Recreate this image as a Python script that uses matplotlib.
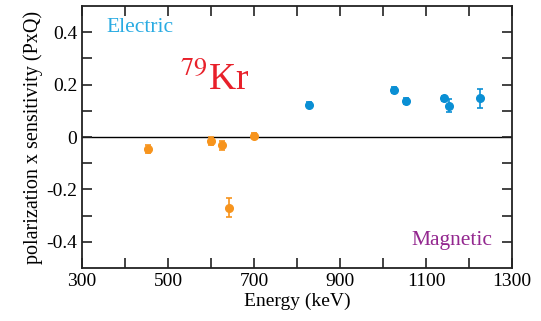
import matplotlib
matplotlib.use("Agg")
import matplotlib.pyplot as plt

# magnetic (orange) and electric (blue) transitions
mag_energy = [454, 599, 625, 642, 700]
mag_pq = [-0.046, -0.015, -0.032, -0.270, 0.005]
mag_err = [0.015, 0.015, 0.018, 0.036, 0.010]

ele_energy = [827, 1026, 1054, 1142, 1153, 1226]
ele_pq = [0.124, 0.179, 0.138, 0.148, 0.120, 0.147]
ele_err = [0.008, 0.010, 0.012, 0.010, 0.024, 0.035]

xticks = [300, 500, 700, 900, 1100, 1300]
xminor = [400, 600, 800, 1000, 1200]
yticks = [-0.4, -0.2, 0, 0.2, 0.4]
ylabels = ['-0.4', '-0.2', '0', '0.2', '0.4']
yminor = [-0.3, -0.1, 0.1, 0.3]

plt.rcParams['font.family'] = ['Liberation Serif', 'DejaVu Serif']
plt.rcParams['mathtext.fontset'] = 'stix'

W, H = 541, 321
fig = plt.figure(figsize=(W / 100, H / 100), dpi=100)
ax = fig.add_axes([82 / W, 1 - 268 / H, 430 / W, 262 / H])

ax.axhline(0, color='black', lw=1.0, zorder=1)

ax.errorbar(mag_energy, mag_pq, yerr=mag_err, fmt='o', color='#f7941d',
            ms=5.5, capsize=2.5, elinewidth=1.2, capthick=1.2, zorder=3)
ax.errorbar(ele_energy, ele_pq, yerr=ele_err, fmt='o', color='#0a8fd4',
            ms=5.5, capsize=2.5, elinewidth=1.2, capthick=1.2, zorder=3)

ax.set_xlim(300, 1300)
ax.set_ylim(-0.5, 0.5)
ax.set_xticks(xticks)
ax.set_xticks(xminor, minor=True)
ax.set_yticks(yticks)
ax.set_yticklabels(ylabels)
ax.set_yticks(yminor, minor=True)

ax.tick_params(which='both', direction='in', top=True, right=True,
               labelsize=14, width=1.2, length=7, color='#222222')
for s in ax.spines.values():
    s.set_linewidth(1.3)
    s.set_color('#222222')

ax.set_xlabel('Energy (keV)', fontsize=14, labelpad=2)
ax.set_ylabel('polarization x sensitivity (PxQ)', fontsize=14.5, labelpad=2)

fig.text(106 / W, 1 - 27 / H, 'Electric', fontsize=15.5, color='#29abe2',
         va='center', ha='left')
fig.text(411 / W, 1 - 241 / H, 'Magnetic', fontsize=15.5, color='#93278f',
         va='center', ha='left')
fig.text(180 / W, 1 - 80 / H, r'$^{79}$Kr', fontsize=27, color='#e8202a',
         va='center', ha='left')

fig.savefig('out.png', dpi=100)
